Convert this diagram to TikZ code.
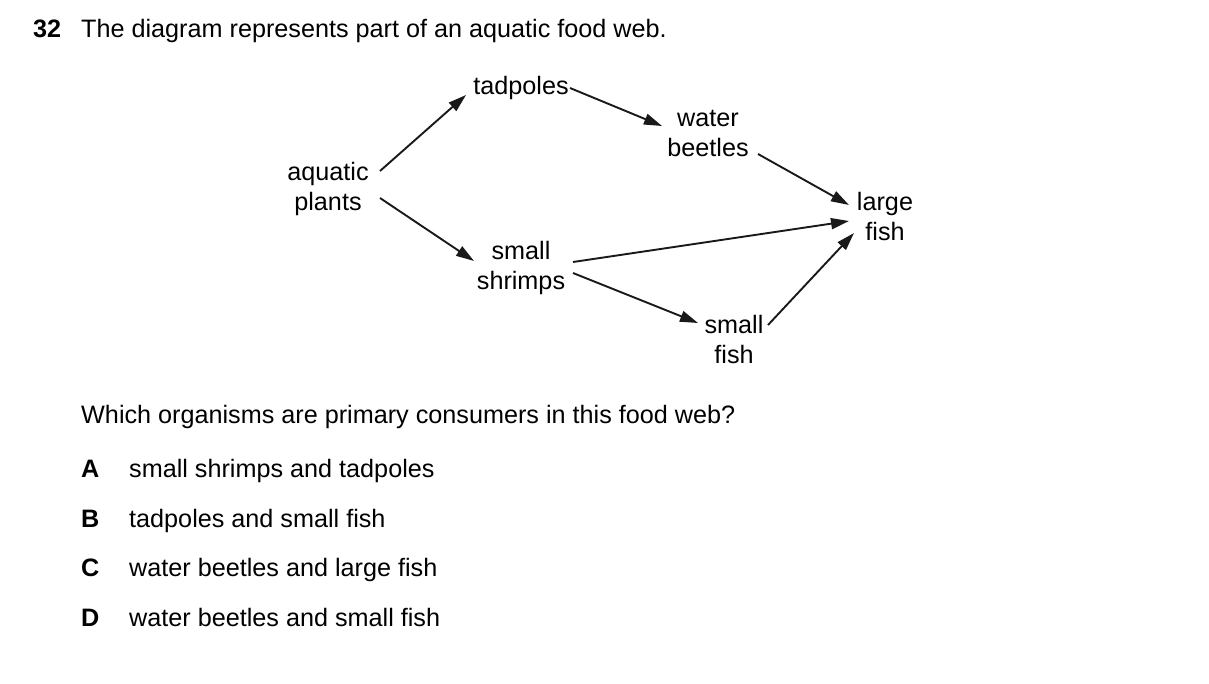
\documentclass[tikz,border=0pt]{standalone}
\usepackage{fontspec}
\setmainfont{Liberation Sans}
\usetikzlibrary{arrows.meta}
\begin{document}
\begin{tikzpicture}[x=1pt,y=-1pt,
  txt/.style={anchor=base west,inner sep=0pt,font=\fontsize{25.2}{30.5}\selectfont},
  bold/.style={font=\fontsize{25.2}{30.5}\selectfont\bfseries},
  org/.style={anchor=base,inner sep=0pt,font=\fontsize{25.2}{30.5}\selectfont},
  feeds/.style={line width=1.9pt,-{Triangle[length=18pt,width=11pt]},black!90}]
\useasboundingbox (0,0) rectangle (1209,683);
\node[txt,bold] (num) at (33,37) {32};
\node[txt] (title) at (81,37) {The diagram represents part of an aquatic food web.};
% organisms
\node[org] (ap) at (328,180) {\begin{tabular}[t]{@{}c@{}}aquatic\\plants\end{tabular}};
\node[org] (tp) at (521,94) {tadpoles};
\node[org] (wb) at (708,126) {\begin{tabular}[t]{@{}c@{}}water\\beetles\end{tabular}};
\node[org] (lf) at (885,210) {\begin{tabular}[t]{@{}c@{}}large\\fish\end{tabular}};
\node[org] (ss) at (521,259) {\begin{tabular}[t]{@{}c@{}}small\\shrimps\end{tabular}};
\node[org] (sf) at (734,333) {\begin{tabular}[t]{@{}c@{}}small\\fish\end{tabular}};
% arrow end points
\coordinate (ap-o1) at (380,171);
\coordinate (tp-i) at (466,95);
\coordinate (ap-o2) at (380,198);
\coordinate (ss-i) at (474,261);
\coordinate (tp-o) at (570,88);
\coordinate (wb-i) at (662,126);
\coordinate (wb-o) at (758,154);
\coordinate (lf-i1) at (849,205);
\coordinate (ss-o1) at (573,262);
\coordinate (lf-i2) at (849,221);
\coordinate (ss-o2) at (573,273);
\coordinate (sf-i) at (698,323);
\coordinate (sf-o) at (768,325);
\coordinate (lf-i3) at (854,233);
\draw[feeds] (ap-o1) -- (tp-i);
\draw[feeds] (ap-o2) -- (ss-i);
\draw[feeds] (tp-o) -- (wb-i);
\draw[feeds] (wb-o) -- (lf-i1);
\draw[feeds] (ss-o1) -- (lf-i2);
\draw[feeds] (ss-o2) -- (sf-i);
\draw[feeds] (sf-o) -- (lf-i3);
% question
\node[txt] (q) at (81,423) {Which organisms are primary consumers in this food web?};
\node[txt,bold] (la) at (81,477) {A};
\node[txt] (oa) at (129,477) {small shrimps and tadpoles};
\node[txt,bold] (lb) at (81,527) {B};
\node[txt] (ob) at (129,527) {tadpoles and small fish};
\node[txt,bold] (lc) at (81,576) {C};
\node[txt] (oc) at (129,576) {water beetles and large fish};
\node[txt,bold] (ld) at (81,626) {D};
\node[txt] (od) at (129,626) {water beetles and small fish};
\end{tikzpicture}
\end{document}
